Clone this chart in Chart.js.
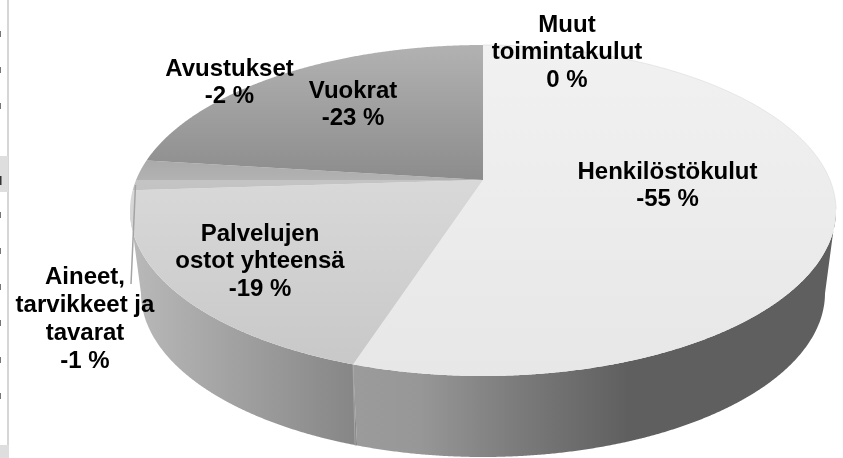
<!DOCTYPE html>
<html>
<head>
<meta charset="utf-8">
<style>
html,body{margin:0;padding:0;background:#fff;}
canvas{display:block;}
</style>
<script src="https://cdn.jsdelivr.net/npm/chart.js@4/dist/chart.umd.min.js"></script>
</head>
<body>
<canvas id="c" width="843" height="458"></canvas>
<script>
// ---- data ----
const categories = [
  ['Henkilöstökulut'],
  ['Palvelujen', 'ostot yhteensä'],
  ['Aineet,', 'tarvikkeet ja', 'tavarat'],
  ['Avustukset'],
  ['Vuokrat'],
  ['Muut', 'toimintakulut']
];
const shares = [-55, -19, -1, -2, -23, 0];

// ---- styles ----
const topFaces = [
  { y0: 45,  y1: 376, c0: '#f1f1f1', c1: '#e7e7e7' },
  { y0: 185, y1: 366, c0: '#d8d8d8', c1: '#c8c8c8' },
  { y0: 160, y1: 200, c0: '#c6c6c6', c1: '#c2c2c2' },
  { y0: 155, y1: 185, c0: '#a8a8a8', c1: '#b4b4b4' },
  { y0: 45,  y1: 180, c0: '#b2b2b2', c1: '#8c8c8c' },
  { y0: 45,  y1: 180, c0: '#eeeeee', c1: '#eeeeee' }
];
const sideFaces = [
  { x0: 355, x1: 835, stops: [[0, '#9b9b9b'], [0.135, '#979797'], [0.34, '#7b7b7b'], [0.57, '#5f5f5f'], [1, '#5f5f5f']] },
  { x0: 135, x1: 355, stops: [[0, '#b8b8b8'], [1, '#868686']] }
];
const labelSpots = [
  { x: 667.5, y: 172 },
  { x: 260, y: 234 },
  { x: 85,  y: 277.5 },
  { x: 229.5, y: 69 },
  { x: 353, y: 91 },
  { x: 567, y: 25 }
];
const lineHeight = 27.8;
const labelFont = 'bold 24px "Liberation Sans", Arial, sans-serif';

// projection of the pie: two ellipses (top and bottom face) in perspective
const cx = 483, persp = -0.184;
const topRim = { rx: 353, cy: 210.5, ry: 165.5 };
const lowRim = { rx: 342, cy: 293,   ry: 164 };
function project(theta, rim) {
  const u = Math.sin(theta), v = -Math.cos(theta), d = 1 + persp * v;
  return {
    x: cx + rim.rx * Math.sqrt(1 - persp * persp) * u / d,
    y: rim.cy + rim.ry * (v + persp) / d
  };
}
const STEP = Math.PI / 720;

const pie3d = {
  id: 'pie3d',
  beforeDatasetsDraw(chart) {
    const ctx = chart.ctx;
    const arcs = chart.getDatasetMeta(0).data;

    // clipped remains of the neighbouring panel on the left edge
    ctx.save();
    ctx.fillStyle = '#d6d6d6';
    ctx.fillRect(7, 0, 2, 446);
    ctx.fillStyle = '#dedede';
    ctx.fillRect(0, 156, 8, 36);
    ctx.fillRect(0, 445, 9, 13);
    ctx.fillStyle = '#777';
    [34, 70, 106, 215, 251, 287, 323, 360, 396].forEach(y => ctx.fillRect(0, y - 3, 1, 6));
    ctx.fillStyle = '#333';
    ctx.fillRect(0, 176, 1.5, 9);
    ctx.restore();

    // side walls
    arcs.forEach((arc, i) => {
      const style = sideFaces[i];
      if (!style || arc.endAngle - arc.startAngle <= 0) return;
      const a = arc.startAngle + Math.PI / 2, b = arc.endAngle + Math.PI / 2;
      const upper = [], lower = [];
      for (let t = a; t <= b + 1e-6; t += STEP) {
        if (-Math.cos(t) < -persp) continue;
        upper.push(project(t, topRim));
        lower.push(project(t, lowRim));
      }
      if (!upper.length) return;
      const g = ctx.createLinearGradient(style.x0, 0, style.x1, 0);
      style.stops.forEach(s => g.addColorStop(s[0], s[1]));
      ctx.beginPath();
      upper.forEach((p, k) => k ? ctx.lineTo(p.x, p.y) : ctx.moveTo(p.x, p.y));
      lower.reverse().forEach(p => ctx.lineTo(p.x, p.y));
      ctx.closePath();
      ctx.fillStyle = g;
      ctx.fill();
    });

    // seam between the two visible walls
    const seamAngle = arcs[0].endAngle + Math.PI / 2;
    const s0 = project(seamAngle, topRim), s1 = project(seamAngle, lowRim);
    ctx.beginPath();
    ctx.moveTo(s0.x, s0.y);
    ctx.lineTo(s1.x - 2, s1.y);
    ctx.strokeStyle = '#a6a6a6';
    ctx.lineWidth = 1;
    ctx.stroke();

    // top faces
    const apex = project(Math.PI / 2, { rx: 0, cy: topRim.cy, ry: topRim.ry });
    arcs.forEach((arc, i) => {
      if (arc.endAngle - arc.startAngle <= 0) return;
      const a = arc.startAngle + Math.PI / 2, b = arc.endAngle + Math.PI / 2;
      const st = topFaces[i];
      const g = ctx.createLinearGradient(0, st.y0, 0, st.y1);
      g.addColorStop(0, st.c0);
      g.addColorStop(1, st.c1);
      ctx.beginPath();
      ctx.moveTo(apex.x, apex.y);
      for (let t = a; t < b; t += STEP) {
        const p = project(t, topRim);
        ctx.lineTo(p.x, p.y);
      }
      const e = project(b, topRim);
      ctx.lineTo(e.x, e.y);
      ctx.closePath();
      ctx.fillStyle = g;
      ctx.fill();
    });

    // faint back rim of the largest slice
    ctx.beginPath();
    for (let t = 0; t < 1.75; t += STEP) {
      const p = project(t, topRim);
      t ? ctx.lineTo(p.x, p.y) : ctx.moveTo(p.x, p.y);
    }
    ctx.strokeStyle = '#dcdcdc';
    ctx.lineWidth = 0.7;
    ctx.stroke();

    // leader line of the small slice
    ctx.beginPath();
    ctx.moveTo(135.5, 185);
    ctx.lineTo(131, 284);
    ctx.strokeStyle = '#a4a4a4';
    ctx.lineWidth = 1.5;
    ctx.stroke();

    return false;
  },
  afterDraw(chart) {
    const ctx = chart.ctx;
    ctx.save();
    ctx.font = labelFont;
    ctx.fillStyle = '#000';
    ctx.textAlign = 'center';
    ctx.textBaseline = 'middle';
    chart.data.labels.forEach((lines, i) => {
      const all = lines.concat(chart.data.datasets[0].data[i] + ' %');
      all.forEach((t, k) => ctx.fillText(t, labelSpots[i].x, labelSpots[i].y + k * lineHeight));
    });
    ctx.restore();
  }
};

new Chart(document.getElementById('c'), {
  type: 'pie',
  data: {
    labels: categories,
    datasets: [{ data: shares, backgroundColor: topFaces.map(f => f.c1), borderWidth: 0 }]
  },
  options: {
    responsive: false,
    animation: false,
    plugins: { legend: { display: false }, tooltip: { enabled: false } }
  },
  plugins: [pie3d]
});
</script>
</body>
</html>
